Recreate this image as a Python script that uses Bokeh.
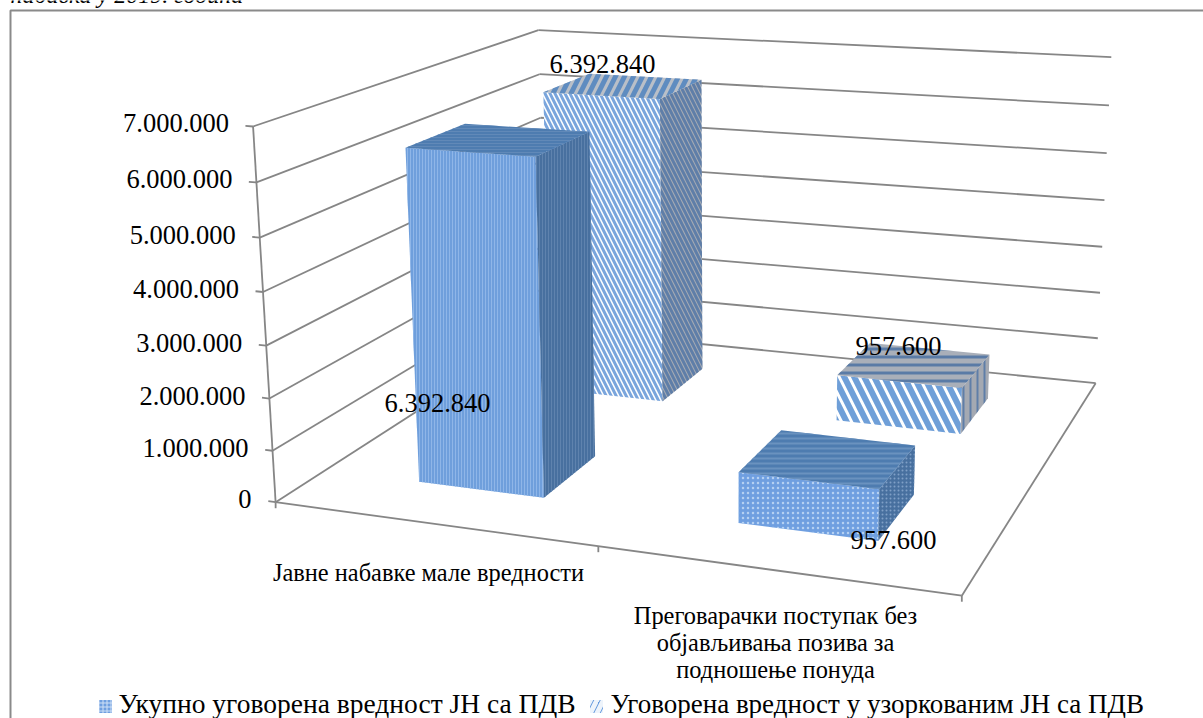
import numpy as np
from bokeh.core.properties import value
from bokeh.embed import file_html
from bokeh.models import Range1d
from bokeh.plotting import figure
from bokeh.resources import INLINE

CATEGORIES = ["Јавне набавке мале вредности",
              "Преговарачки поступак без\nобјављивања позива за\nподношење понуда"]
SERIES = ["Укупно уговорена вредност ЈН са ПДВ", "Уговорена вредност у узоркованим ЈН са ПДВ"]
TOTAL_VALUES = [6392840, 957600]
SAMPLED_VALUES = [6392840, 957600]
VALUE_LABELS = ["6.392.840", "957.600"]
TICK_VALUES = [0, 1000000, 2000000, 3000000, 4000000, 5000000, 6000000, 7000000]
TICK_LABELS = ["0", "1.000.000", "2.000.000", "3.000.000", "4.000.000", "5.000.000", "6.000.000", "7.000.000"]
TITLE_FRAGMENT = "набавка у 2019. година"
VMAX = TICK_VALUES[-1]
SERIF = value("Liberation Serif")
GRID = "#868686"

# camera calibration: box corners (u, v, w) -> screen pixel
CAL = [((0,0,0),(274,502)),((0,0,1),(255,124)),((1,0,0),(960,597)),((1,1,0),(1095,380)),
       ((1,1,1),(1112,58)),((0,1,1),(535,30)),((0,1,0),(547,329))]
A = []
for (u,v,w),(sx,sy) in CAL:
    A.append([u,v,w,1,0,0,0,0,-sx*u,-sx*v,-sx*w,-sx])
    A.append([0,0,0,0,u,v,w,1,-sy*u,-sy*v,-sy*w,-sy])
P = np.linalg.svd(np.array(A,float))[2][-1].reshape(3,4)

def proj(u, v, val):
    h = P @ np.array([u, v, val/VMAX, 1.0])
    return float(h[0]/h[2]), float(h[1]/h[2])

p = figure(width=1203, height=718, output_backend="svg", toolbar_location=None,
           x_range=Range1d(0,1203), y_range=Range1d(718,0), min_border=0)
p.axis.visible = False; p.grid.visible = False; p.outline_line_color = None
p.background_fill_color = "white"; p.border_fill_color = "white"

def line(a, b, w=1.8):
    p.line([a[0],b[0]], [a[1],b[1]], line_color=GRID, line_width=w)

# chart frame
p.line([10,10,1203], [718,10,10], line_color="#8a8a8a", line_width=2)

# walls and floor
for tv in TICK_VALUES:
    line(proj(0,0,tv), proj(0,1,tv))
    line(proj(0,1,tv), proj(1,1,tv))
    line(proj(-0.012,0,tv), proj(0,0,tv))
line(proj(0,0,0), proj(0,0,VMAX))
line(proj(0,0,0), proj(1,0,0))
line(proj(1,0,0), proj(1,1,0))
for u in (0, .5, 1):
    x0, y0 = proj(u,0,0)
    line((x0,y0), (x0,y0+6))

STY = {
 "total": dict(
   front=dict(fill_color="#6f9fdc", hatch_pattern="vertical_line", hatch_color="#8fb6e8", hatch_scale=3, hatch_weight=1),
   top=dict(fill_color="#4e7cb0", hatch_pattern="horizontal_line", hatch_color="#6189b8", hatch_scale=3, hatch_weight=1),
   side=dict(fill_color="#48709f", hatch_pattern="vertical_line", hatch_color="#5f83ae", hatch_scale=3, hatch_weight=1)),
 "sampled": dict(
   front=dict(fill_color="white", hatch_pattern="left_diagonal_line", hatch_color="#7aa5dc", hatch_scale=10, hatch_weight=3),
   top=dict(fill_color="#b9bfc8", hatch_pattern="right_diagonal_line", hatch_color="#5f8cc0", hatch_scale=18, hatch_weight=5),
   side=dict(fill_color="#a4a9b2", hatch_pattern="left_diagonal_line", hatch_color="#5f7ea8", hatch_scale=9, hatch_weight=3)),
}
STY2 = {
 "total": dict(
   front=dict(fill_color="#6f9fe0", hatch_pattern="dot", hatch_color="#b5d0f2", hatch_scale=5, hatch_weight=1),
   top=dict(fill_color="#4e7cb0", hatch_pattern="horizontal_line", hatch_color="#6a92bf", hatch_scale=5, hatch_weight=2),
   side=dict(fill_color="#48709f", hatch_pattern="dot", hatch_color="#7f9fc6", hatch_scale=4, hatch_weight=1)),
 "sampled": dict(
   front=dict(fill_color="white", hatch_pattern="left_diagonal_line", hatch_color="#6f9fd8", hatch_scale=20, hatch_weight=6),
   top=dict(fill_color="#a9afb9", hatch_pattern="horizontal_line", hatch_color="#5a7ba6", hatch_scale=8, hatch_weight=3),
   side=dict(fill_color="#a4a9b2", hatch_pattern="vertical_line", hatch_color="#5f7ea8", hatch_scale=7, hatch_weight=2)),
}

def bar(cat, ser, val, styles):
    uc = (cat + .5)/2 + (.005 if cat == 0 else 0)
    vc = (ser + .5)/2 + .003
    u0, u1, v0, v1 = uc-.1, uc+.1, vc-.1, vc+.1
    front = [proj(u0,v0,0), proj(u1,v0,0), proj(u1,v0,val), proj(u0,v0,val)]
    side = [proj(u1,v0,0), proj(u1,v1,0), proj(u1,v1,val), proj(u1,v0,val)]
    top = [proj(u0,v0,val), proj(u1,v0,val), proj(u1,v1,val), proj(u0,v1,val)]
    for pts, st in ((front, styles["front"]), (side, styles["side"]), (top, styles["top"])):
        p.patch([q[0] for q in pts], [q[1] for q in pts], line_color=None, **st)

bar(0, 1, SAMPLED_VALUES[0], STY["sampled"])
bar(0, 0, TOTAL_VALUES[0], STY["total"])
bar(1, 1, SAMPLED_VALUES[1], STY2["sampled"])
bar(1, 0, TOTAL_VALUES[1], STY2["total"])

def txt(x, y, s, size, align="left", baseline="middle", style="normal"):
    p.text([x], [y], text=[s], text_font=SERIF, text_font_size=size, text_align=align,
           text_baseline=baseline, text_font_style=style, text_color="black")

# value axis labels
for tv, lab in zip(TICK_VALUES, TICK_LABELS):
    x, y = proj(0,0,tv)
    txt(x-24, y-3, lab, "26.5px", "right")

# data labels
txt(437, 402, VALUE_LABELS[0], "26.5px", "center")
txt(602, 63, VALUE_LABELS[0], "26.5px", "center")
txt(898, 345, VALUE_LABELS[1], "26.5px", "center")
txt(893, 539, VALUE_LABELS[1], "26.5px", "center")

# category labels
txt(428, 572, CATEGORIES[0], "24.4px", "center")
for i, l in enumerate(CATEGORIES[1].split("\n")):
    txt(775, 615+i*27, l, "24.4px", "center")

# legend
p.scatter([105],[706], size=13, marker="square", line_color=None, fill_color="#6f9fe0",
          hatch_pattern="cross", hatch_color="#cfe0f6", hatch_scale=4, hatch_weight=1)
p.scatter([596],[706], size=13, marker="square", line_color=None, fill_color="#5f96dc",
          hatch_pattern="right_diagonal_line", hatch_color="#eef4fb", hatch_scale=13, hatch_weight=5)
txt(118, 703, SERIES[0], "27.5px")
txt(610, 703, SERIES[1], "27px")

# clipped caption fragment above the frame
txt(10, -6, TITLE_FRAGMENT, "24px", style="italic")

open("out.html","w").write(file_html(p, INLINE))
